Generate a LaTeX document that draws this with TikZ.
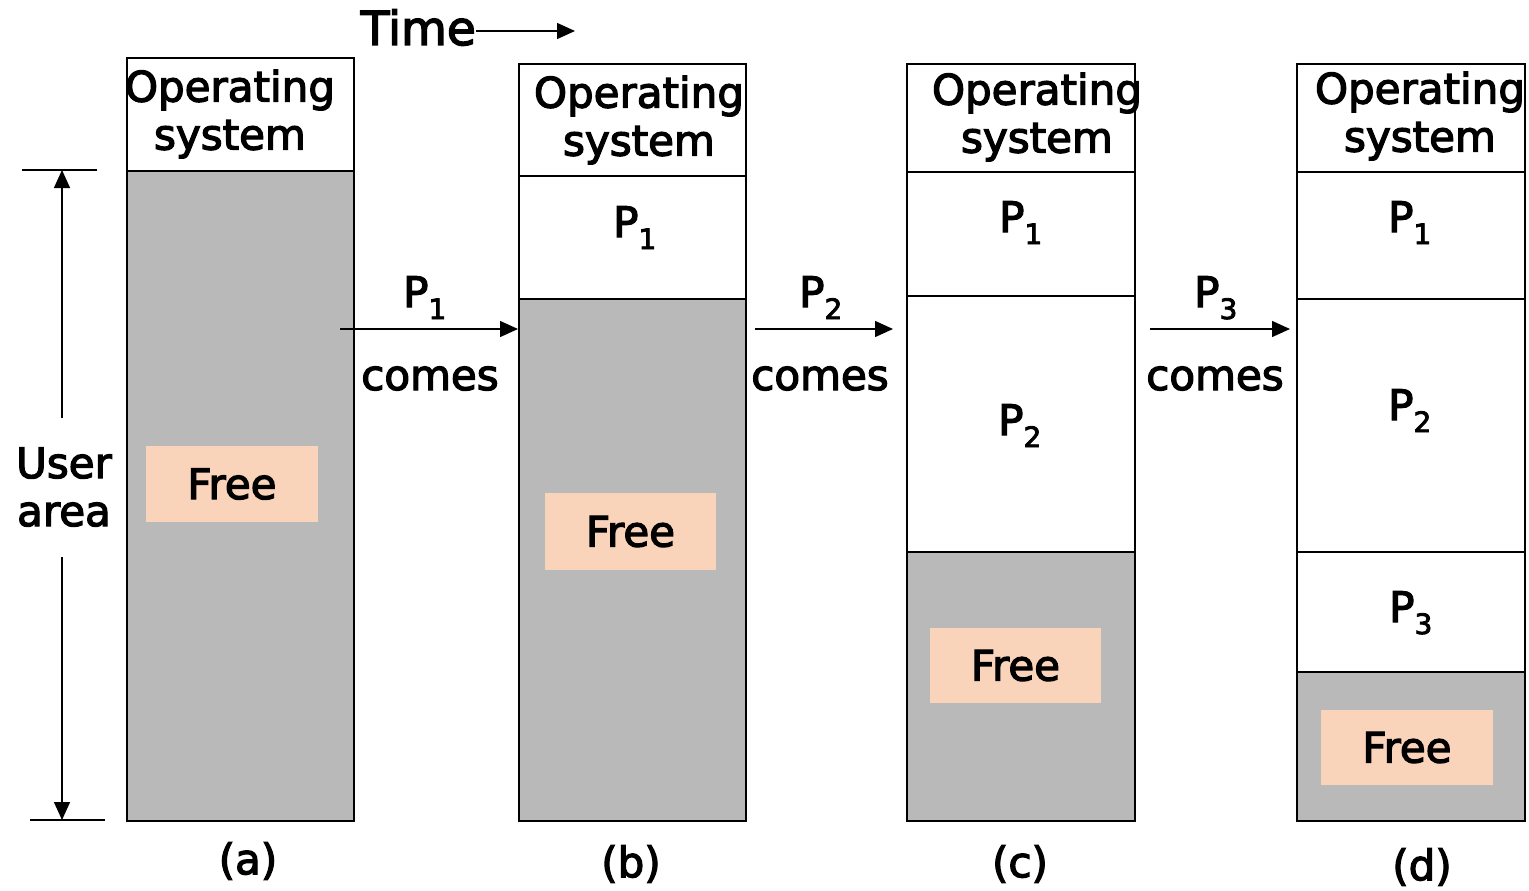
\documentclass[tikz,border=0pt]{standalone}
\usepackage{fontspec}
\setmainfont{DejaVu Sans}[BoldFont=DejaVu Sans, BoldFeatures={FakeBold=3}]
\usetikzlibrary{arrows.meta}
\definecolor{freegray}{RGB}{185,185,185}
\definecolor{peach}{RGB}{249,211,186}
\newcommand{\Psb}[1]{P\raisebox{-12pt}{\fontsize{28}{28}\selectfont #1}}
\tikzset{
  seg/.style={draw=black, line width=1.8pt, fill=white, inner sep=0pt, anchor=north west},
  freeseg/.style={seg, fill=freegray},
  txt/.style={font=\fontsize{42}{48}\selectfont\bfseries, inner sep=0pt, align=center},
  freelbl/.style={txt, fill=peach, minimum width=172pt, minimum height=76pt},
  arr/.style={line width=1.4pt, -{Triangle[length=18pt,width=16pt]}},
  dimline/.style={line width=1.4pt},
}
\begin{document}
\begin{tikzpicture}[x=1pt,y=-1pt]
\useasboundingbox (0,0) rectangle (1529,891);
% ---- column (a)
\node[seg, minimum width=227pt, minimum height=113pt] (aos) at (126,57) {};
\node[freeseg, minimum width=227pt, minimum height=650pt] (afree) at (126,170) {};
\node[txt] (aost) at (230,114) {Operating\\system};
\node[freelbl] (afl) at (232,484) {Free};
% ---- column (b)
\node[seg, minimum width=227pt, minimum height=112pt] (bos) at (518,63) {};
\node[seg, minimum width=227pt, minimum height=123pt] (bp1) at (518,175) {};
\node[freeseg, minimum width=227pt, minimum height=522pt] (bfree) at (518,298) {};
\node[txt] (bost) at (639,120) {Operating\\system};
\node[txt, anchor=base west] (bp1t) at (613,237) {\Psb{1}};
\node[freelbl, minimum width=171pt, minimum height=77pt] (bfl) at (630.5,531.5) {Free};
% ---- column (c)
\node[seg, minimum width=228pt, minimum height=108pt] (cos) at (906,63) {};
\node[seg, minimum width=228pt, minimum height=124pt] (cp1) at (906,171) {};
\node[seg, minimum width=228pt, minimum height=256pt] (cp2) at (906,295) {};
\node[freeseg, minimum width=228pt, minimum height=269pt] (cfree) at (906,551) {};
\node[txt] (cost) at (1037,117) {Operating\\system};
\node[txt, anchor=base west] (cp1t) at (999,232) {\Psb{1}};
\node[txt, anchor=base west] (cp2t) at (998,435) {\Psb{2}};
\node[freelbl, minimum width=171pt, minimum height=75pt] (cfl) at (1015.5,665.5) {Free};
% ---- column (d)
\node[seg, minimum width=228pt, minimum height=108pt] (dos) at (1296,63) {};
\node[seg, minimum width=228pt, minimum height=127pt] (dp1) at (1296,171) {};
\node[seg, minimum width=228pt, minimum height=253pt] (dp2) at (1296,298) {};
\node[seg, minimum width=228pt, minimum height=120pt] (dp3) at (1296,551) {};
\node[freeseg, minimum width=228pt, minimum height=149pt] (dfree) at (1296,671) {};
\node[txt] (dost) at (1420,116) {Operating\\system};
\node[txt, anchor=base west] (dp1t) at (1388,232) {\Psb{1}};
\node[txt, anchor=base west] (dp2t) at (1388,420) {\Psb{2}};
\node[txt, anchor=base west] (dp3t) at (1389,622) {\Psb{3}};
\node[freelbl, minimum width=172pt, minimum height=75pt] (dfl) at (1407,747.5) {Free};
% ---- captions
\node[txt] (capa) at (248,861) {(a)};
\node[txt] (capb) at (631,864) {(b)};
\node[txt] (capc) at (1020,864) {(c)};
\node[txt] (capd) at (1422,867) {(d)};
% ---- time arrow
\node[txt, font=\fontsize{47}{50}\selectfont\bfseries, anchor=base east] (time) at (476,45) {Time};
\coordinate (timeend) at (575,31);
\draw[arr] (time.east |- timeend) -- (timeend);
% ---- user area dimension
\coordinate (dimtopl) at (22,170);
\coordinate (dimtopr) at (97,170);
\coordinate (dimbotl) at (30,820);
\coordinate (dimbotr) at (105,820);
\draw[dimline] (dimtopl) -- (dimtopr);
\draw[dimline] (dimbotl) -- (dimbotr);
\node[txt] (ua) at (64,487) {User\\area};
\coordinate (uas) at (62,418);
\coordinate (uae) at (62,557);
\draw[arr] (uas) -- (62,170);
\draw[arr] (uae) -- (62,820);
% ---- transition arrows
\coordinate (p1s) at (340,329);
\draw[arr] (p1s) -- (bfree.west |- p1s);
\node[txt, anchor=base west] (p1l) at (403,307) {\Psb{1}};
\node[txt, anchor=base] (p1c) at (430,390) {comes};
\coordinate (p2s) at (755,329);
\coordinate (p2e) at (893,329);
\draw[arr] (p2s) -- (p2e);
\node[txt, anchor=base west] (p2l) at (799,307) {\Psb{2}};
\node[txt, anchor=base] (p2c) at (820,390) {comes};
\coordinate (p3s) at (1150,329);
\coordinate (p3e) at (1290,329);
\draw[arr] (p3s) -- (p3e);
\node[txt, anchor=base west] (p3l) at (1194,307) {\Psb{3}};
\node[txt, anchor=base] (p3c) at (1215,390) {comes};
\end{tikzpicture}
\end{document}
